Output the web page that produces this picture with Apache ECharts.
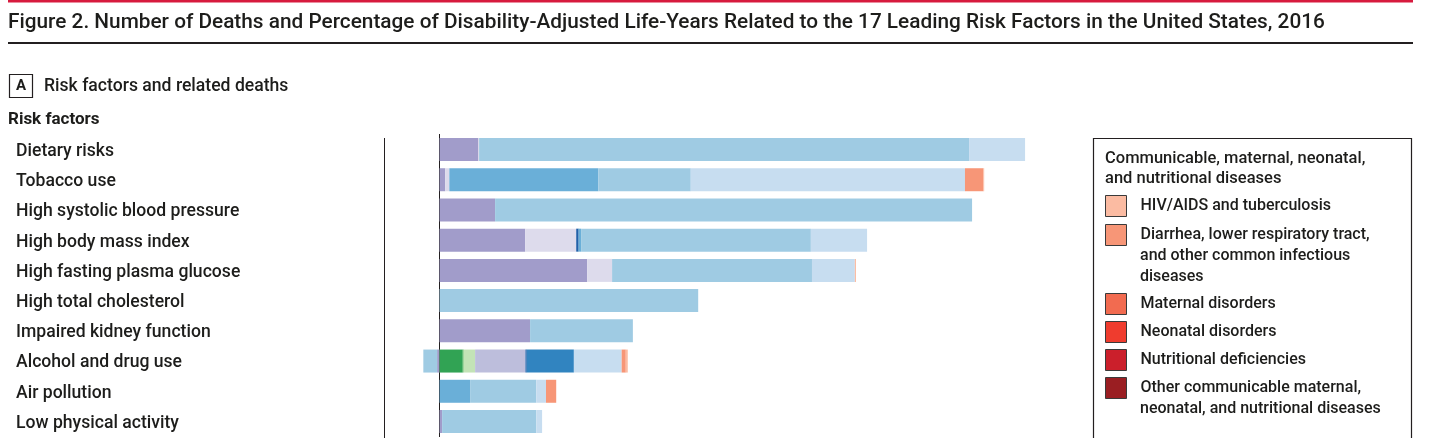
<!DOCTYPE html>
<html>
<head>
<meta charset="utf-8">
<script src="https://cdn.jsdelivr.net/npm/echarts@6/dist/echarts.min.js"></script>
<style>
html, body { margin: 0; padding: 0; background: #fff; }
#chart { width: 1438px; height: 438px; }
</style>
</head>
<body>
<div id="chart"></div>
<script>
'use strict';

var riskFactors = ['Dietary risks', 'Tobacco use', 'High systolic blood pressure', 'High body mass index',
    'High fasting plasma glucose', 'High total cholesterol', 'Impaired kidney function',
    'Alcohol and drug use', 'Air pollution', 'Low physical activity'];

// deaths (thousands) attributed to each risk factor, same order as riskFactors
var diabetesDeaths    = [35, 5.1, 50, 77.1, 132.9, 0, 81.5, -2.2, 0, 2.3];
var neuroDeaths       = [0.6, 3.7, 0, 45.9, 22.4, 0, 0, 0, 0, 0];
var transportDeaths   = [0, 0, 0, 0, 0, 0, 0, 20.9, 0, 0];
var unintendedDeaths  = [0, 0, 0, 0, 0, 0, 0, 0.9, 0, 0];
var selfHarmDeaths    = [0, 0, 0, 0, 0, 0, 0, 10.2, 0, 0];
var mentalDeaths      = [0, 0, 0, 0, 0, 0, 0, 45.3, 0, 0];
var digestiveDeaths   = [0, 0, 0, 2.2, 0, 0, 0, 1.2, 0, 0];
var cirrhosisDeaths   = [0, 0, 0, 0, 0, 0, 0, 42.4, 0, 0];
var respiratoryDeaths = [0, 134, 0, 2.2, 0, 0, 0, 0, 27.5, 0];
var cardioDeaths      = [441, 83.3, 429.3, 206.8, 179.9, 232.8, 92.5, -12.4, 59.5, 84.8];
var neoplasmDeaths    = [50.4, 246.8, 0, 50.6, 38.6, 0, 0, 43, 8.8, 5.2];
var lriDeaths         = [0, 16.6, 0, 0, 0, 0, 0, 3.7, 9.2, 0];
var hivTbDeaths       = [0, 0.7, 0, 0, 1, 0, 0, 1.8, 0, 0];
var maternalDeaths    = [0, 0, 0, 0, 0, 0, 0, 0, 0, 0];
var neonatalDeaths    = [0, 0, 0, 0, 0, 0, 0, 0, 0, 0];
var nutritionDeaths   = [0, 0, 0, 0, 0, 0, 0, 0, 0, 0];
var otherCmnnDeaths   = [0, 0, 0, 0, 0, 0, 0, 0, 0, 0];

var HIV = 'HIV/AIDS and tuberculosis',
    LRI = 'Diarrhea, lower respiratory tract, and other common infectious diseases',
    MAT = 'Maternal disorders',
    NEO = 'Neonatal disorders',
    NUT = 'Nutritional deficiencies',
    OTH = 'Other communicable maternal, neonatal, and nutritional diseases';

var causes = [
    ['Diabetes, urogenital, blood, and endocrine diseases', '#a19cca', diabetesDeaths],
    ['Neurological disorders', '#dddbec', neuroDeaths],
    ['Transport injuries', '#31a354', transportDeaths],
    ['Unintentional injuries', '#74c476', unintendedDeaths],
    ['Self-harm and interpersonal violence', '#c3e3b6', selfHarmDeaths],
    ['Mental and substance use disorders', '#bdbedc', mentalDeaths],
    ['Digestive diseases', '#2160a8', digestiveDeaths],
    ['Cirrhosis and other chronic liver diseases', '#3184c0', cirrhosisDeaths],
    ['Chronic respiratory diseases', '#6aafd8', respiratoryDeaths],
    ['Cardiovascular diseases', '#9fcbe3', cardioDeaths],
    ['Neoplasms', '#c7ddf0', neoplasmDeaths],
    [LRI, '#f79677', lriDeaths],
    [HIV, '#fbbba2', hivTbDeaths],
    [MAT, '#f26b50', maternalDeaths],
    [NEO, '#ef3c2e', neonatalDeaths],
    [NUT, '#cb1f2b', nutritionDeaths],
    [OTH, '#9a1e22', otherCmnnDeaths]
];

var FONT = 'Roboto';
var INK = '#1d1d1b';

var series = causes.map(function (c) {
    return {
        name: c[0],
        type: 'bar',
        stack: 'deaths',
        barWidth: 23,
        silent: true,
        itemStyle: { color: c[1] },
        data: c[2]
    };
});

// legend entries: first line goes in the legend, the rest is plain text underneath
var legendRows = [
    { name: HIV, top: 195, lines: ['HIV/AIDS and tuberculosis'] },
    { name: LRI, top: 224, lines: ['Diarrhea, lower respiratory tract,', 'and other common infectious', 'diseases'] },
    { name: MAT, top: 293, lines: ['Maternal disorders'] },
    { name: NEO, top: 321, lines: ['Neonatal disorders'] },
    { name: NUT, top: 349, lines: ['Nutritional deficiencies'] },
    { name: OTH, top: 377, lines: ['Other communicable maternal,', 'neonatal, and nutritional diseases'] }
];

var legends = legendRows.map(function (r) {
    return {
        data: [r.name],
        left: 1105,
        top: r.top,
        orient: 'vertical',
        padding: 0,
        icon: 'rect',
        itemWidth: 21,
        itemHeight: 21,
        selectedMode: false,
        itemStyle: { borderColor: '#3a3a3a', borderWidth: 1 },
        formatter: function () { return r.lines[0]; },
        textStyle: { fontFamily: FONT, fontSize: 16, fontWeight: 500, color: INK, lineHeight: 21, padding: [0, 0, 0, 9] }
    };
});

var graphics = [
    { type: 'rect', shape: { x: 8, y: 0, width: 1405, height: 2.5 }, style: { fill: '#d71a3e' } },
    { type: 'rect', shape: { x: 8, y: 42, width: 1405, height: 2 }, style: { fill: '#231f20' } },
    { type: 'rect', shape: { x: 9.5, y: 74.5, width: 23, height: 23 }, style: { fill: 'none', stroke: '#231f20', lineWidth: 1.2 } },
    { type: 'text', x: 21, y: 86.5, style: { text: 'A', fontFamily: FONT, fontSize: 15, fontWeight: 'bold', fill: INK, align: 'center', verticalAlign: 'middle' } },
    { type: 'line', shape: { x1: 384.5, y1: 138, x2: 384.5, y2: 438 }, style: { stroke: '#231f20', lineWidth: 1 } },
    { type: 'rect', shape: { x: 1093.5, y: 138.5, width: 318, height: 330 }, style: { fill: 'none', stroke: '#231f20', lineWidth: 1.2 } },
    { type: 'text', x: 1105, y: 158.5, style: { text: 'Communicable, maternal, neonatal,', fontFamily: FONT, fontSize: 16.5, fontWeight: 500, fill: INK, verticalAlign: 'middle' } },
    { type: 'text', x: 1105, y: 178.5, style: { text: 'and nutritional diseases', fontFamily: FONT, fontSize: 16.5, fontWeight: 500, fill: INK, verticalAlign: 'middle' } }
];
legendRows.forEach(function (r) {
    for (var i = 1; i < r.lines.length; i++) {
        graphics.push({ type: 'text', x: 1140, y: r.top + 10.5 + i * 21.3,
            style: { text: r.lines[i], fontFamily: FONT, fontSize: 16, fontWeight: 500, fill: INK, verticalAlign: 'middle' } });
    }
});

var chart = echarts.init(document.getElementById('chart'));

var option = {
    animation: false,
    backgroundColor: '#fff',
    title: [{
        text: 'Figure 2. Number of Deaths and Percentage of Disability-Adjusted Life-Years Related to the 17 Leading Risk Factors in the United States, 2016',
        left: 8, top: 12, padding: 0,
        textStyle: { fontFamily: FONT, fontSize: 20.8, fontWeight: 500, color: INK }
    }, {
        text: 'Risk factors and related deaths',
        left: 44, top: 77.5, padding: 0,
        textStyle: { fontFamily: FONT, fontSize: 17.6, fontWeight: 500, color: INK }
    }, {
        text: 'Risk factors',
        left: 8, top: 111, padding: 0,
        textStyle: { fontFamily: FONT, fontSize: 17, fontWeight: 'bold', color: INK }
    }],
    legend: legends,
    grid: {
        left: 384,
        right: 359.6,
        top: 134.4,
        bottom: 1.4,
        containLabel: false,
        outerBoundsMode: 'none'
    },
    xAxis: {
        type: 'value',
        min: -50,
        max: 575,
        axisLine: { show: false },
        axisTick: { show: false },
        axisLabel: { show: false },
        splitLine: { show: false }
    },
    yAxis: {
        type: 'category',
        data: riskFactors,
        inverse: true,
        axisTick: { show: false },
        axisLine: { onZero: true, lineStyle: { color: '#231f20', width: 1 } },
        axisLabel: {
            align: 'left',
            margin: 368,
            formatter: function (v) { return '{r|' + v + '}'; },
            rich: {
                r: {
                    padding: [4, 0, 0, 0],
                    fontFamily: FONT,
                    fontSize: 17.6,
                    fontWeight: 500,
                    color: INK
                }
            }
        }
    },
    graphic: graphics,
    series: series
};

chart.setOption(option);
</script>
</body>
</html>
